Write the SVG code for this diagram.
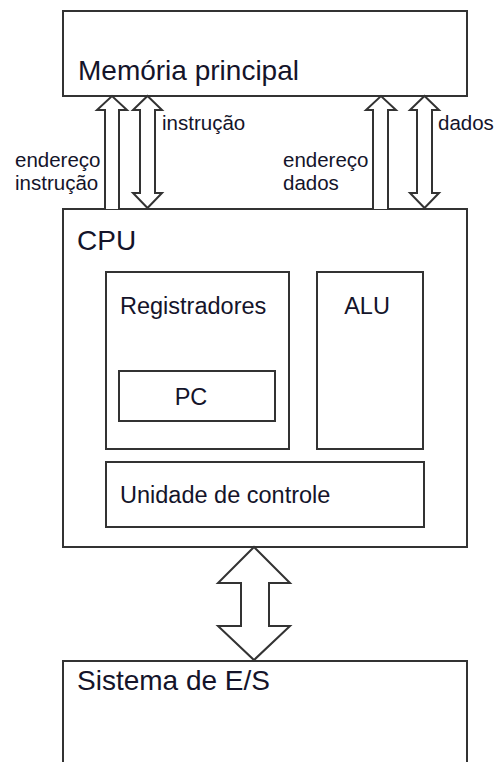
<svg xmlns="http://www.w3.org/2000/svg" width="496" height="762" viewBox="0 0 496 762">
  <style>
    .box { fill: #ffffff; stroke: #333333; stroke-width: 2; }
    .arrow { fill: #ffffff; stroke: #333333; stroke-width: 2; stroke-linejoin: miter; }
    text { font-family: "Liberation Sans", Arial, sans-serif; fill: #14142a; }
    .big { font-size: 28px; }
    .mid { font-size: 23.5px; }
    .small { font-size: 20.5px; }
  </style>
  <rect width="496" height="762" fill="#ffffff"/>

  <g id="memoria">
    <rect class="box" x="63" y="11" width="404" height="85"/>
    <text class="big" x="78" y="80">Memória principal</text>
  </g>

  <g id="cpu">
    <rect class="box" x="63" y="209" width="404" height="338"/>
    <text class="big" x="77" y="250">CPU</text>
  </g>

  <g id="registradores">
    <rect class="box" x="106" y="272" width="183" height="177"/>
    <text class="mid" x="120" y="314">Registradores</text>
  </g>

  <g id="pc">
    <rect class="box" x="119" y="371" width="156" height="50"/>
    <text class="mid" x="191" y="405" text-anchor="middle">PC</text>
  </g>

  <g id="alu">
    <rect class="box" x="317" y="272" width="106" height="177"/>
    <text class="mid" x="367" y="314" text-anchor="middle">ALU</text>
  </g>

  <g id="controle">
    <rect class="box" x="106" y="462" width="318" height="65"/>
    <text class="mid" x="120" y="503">Unidade de controle</text>
  </g>

  <g id="es">
    <rect class="box" x="63" y="661" width="404" height="120"/>
    <text class="big" x="77" y="690">Sistema de E/S</text>
  </g>

  <g id="connectors">
    <!-- address bus to memory (instruction fetch) -->
    <path class="arrow" d="M105,209 V110 H97 L112,96 L127,110 H119 V209"/>
    <!-- instruction bus -->
    <path class="arrow" d="M147.5,96 L162,110 H155 V193 H162 L147.5,208 L133,193 H140 V110 H133 Z"/>
    <!-- address bus to memory (data) -->
    <path class="arrow" d="M373,209 V110 H366 L381,96 L396,110 H388 V209"/>
    <!-- data bus -->
    <path class="arrow" d="M424.5,96 L439,110 H432 V193 H439 L424.5,208 L410,193 H417 V110 H410 Z"/>
    <!-- CPU to I/O system -->
    <path class="arrow" d="M254,547 L290,583 H269 V626 H290 L254,660 L218,626 H241 V583 H218 Z"/>

    <text class="small" x="162" y="130">instrução</text>
    <text class="small" x="15" y="167">endereço</text>
    <text class="small" x="15" y="190">instrução</text>
    <text class="small" x="283" y="167">endereço</text>
    <text class="small" x="283" y="190">dados</text>
    <text class="small" x="438" y="130">dados</text>
  </g>
</svg>
